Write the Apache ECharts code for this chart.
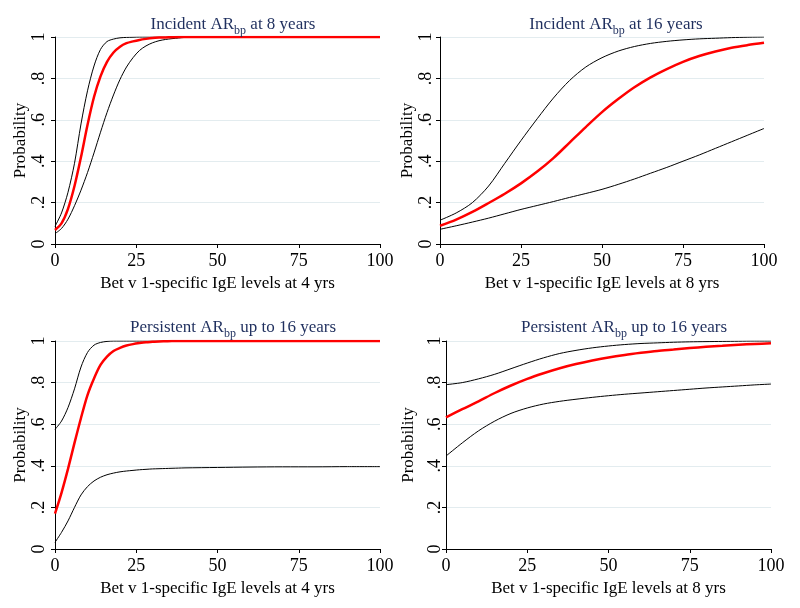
<!DOCTYPE html>
<html><head><meta charset="utf-8">
<script src="https://cdn.jsdelivr.net/npm/echarts@6/dist/echarts.min.js"></script>
<style>html,body{margin:0;padding:0;background:#fff}#c{width:800px;height:608px}</style>
</head><body><div id="c"></div>
<script>
// x grids (IgE levels)
const xSteep = [0,2,4,6,8,10,12,14,16,18,20,22,24,26,28,30,32,34,36,38,40,50,60,70,80,90,100];
const xWide = [0,5,10,15,20,25,30,35,40,45,50,55,60,65,70,75,80,85,90,95,100];

// Panel 1: Incident AR_bp at 8 years (IgE at 4 yrs)
const p1Red = [0.068,0.10,0.17,0.28,0.42,0.575,0.71,0.81,0.88,0.925,0.953,0.97,0.979,0.986,0.991,0.995,0.997,0.998,0.999,1,1,1,1,1,1,1,1];
const p1Up  = [0.085,0.15,0.25,0.39,0.58,0.74,0.86,0.94,0.978,0.99,0.996,0.998,0.999,1,1,1,1,1,1,1,1,1,1,1,1,1,1];
const p1Lo  = [0.05,0.075,0.12,0.185,0.26,0.345,0.44,0.54,0.635,0.72,0.795,0.855,0.90,0.935,0.957,0.972,0.982,0.988,0.992,0.995,0.998,1,1,1,1,1,1];
// Panel 2: Incident AR_bp at 16 years (IgE at 8 yrs)
const p2Red = [0.088,0.118,0.155,0.198,0.243,0.293,0.35,0.415,0.49,0.565,0.637,0.70,0.757,0.805,0.845,0.88,0.908,0.93,0.948,0.961,0.972];
const p2Up  = [0.115,0.15,0.2,0.28,0.39,0.50,0.605,0.705,0.79,0.855,0.90,0.932,0.954,0.969,0.979,0.986,0.991,0.994,0.997,0.999,1];
const p2Lo  = [0.071,0.088,0.106,0.125,0.146,0.167,0.186,0.205,0.225,0.244,0.264,0.288,0.314,0.342,0.37,0.40,0.43,0.462,0.494,0.526,0.558];
// Panel 3: Persistent AR_bp up to 16 years (IgE at 4 yrs)
const p3Red = [0.17,0.27,0.385,0.51,0.63,0.74,0.82,0.885,0.925,0.952,0.967,0.978,0.985,0.99,0.994,0.996,0.998,0.999,1,1,1,1,1,1,1,1,1];
const p3Up  = [0.575,0.615,0.68,0.77,0.875,0.945,0.98,0.993,0.998,1,1,1,1,1,1,1,1,1,1,1,1,1,1,1,1,1,1];
const p3Lo  = [0.032,0.08,0.135,0.2,0.26,0.30,0.327,0.345,0.357,0.365,0.371,0.375,0.378,0.381,0.383,0.385,0.386,0.387,0.388,0.389,0.39,0.392,0.394,0.395,0.395,0.396,0.396];
// Panel 4: Persistent AR_bp up to 16 years (IgE at 8 yrs)
const p4Red = [0.633,0.672,0.71,0.75,0.786,0.818,0.845,0.869,0.889,0.906,0.921,0.933,0.943,0.952,0.959,0.966,0.972,0.977,0.982,0.986,0.989];
const p4Up  = [0.79,0.80,0.818,0.84,0.867,0.894,0.919,0.94,0.955,0.967,0.976,0.983,0.988,0.991,0.994,0.996,0.997,0.998,0.999,1,1];
const p4Lo  = [0.447,0.51,0.568,0.615,0.652,0.678,0.697,0.71,0.72,0.729,0.737,0.744,0.75,0.756,0.762,0.768,0.774,0.779,0.784,0.789,0.793];

const titles = [
  ['Incident AR','bp',' at 8 years'],
  ['Incident AR','bp',' at 16 years'],
  ['Persistent AR','bp',' up to 16 years'],
  ['Persistent AR','bp',' up to 16 years']
];
const xNames = ['Bet v 1-specific IgE levels at 4 yrs','Bet v 1-specific IgE levels at 8 yrs',
                'Bet v 1-specific IgE levels at 4 yrs','Bet v 1-specific IgE levels at 8 yrs'];
const yName = 'Probability';
const xTicks = [0,25,50,75,100];
const yTickLabels = {0:'0',0.2:'.2',0.4:'.4',0.6:'.6',0.8:'.8',1:'1'};

const FONT = '"Liberation Serif","Times New Roman",serif';
const grids = [
  {left:55, top:37, width:325, height:207},
  {left:440, top:37, width:324, height:207},
  {left:55, top:341, width:325, height:208},
  {left:446, top:341, width:325, height:208}
];
const titlePos = [{x:228,y:8},{x:611,y:8},{x:228,y:311},{x:619,y:311}];
const yLabMargin = [7,5,7,2];
const yNameGap = [26,20,26,29];

const curves = [
  [[xSteep,p1Up],[xSteep,p1Lo],[xSteep,p1Red]],
  [[xWide,p2Up],[xWide,p2Lo],[xWide,p2Red]],
  [[xSteep,p3Up],[xSteep,p3Lo],[xSteep,p3Red]],
  [[xWide,p4Up],[xWide,p4Lo],[xWide,p4Red]]
];
const zip = (xs, ys) => xs.map((x,i)=>[x,ys[i]]);

const option = {
  backgroundColor:'#ffffff',
  animation:false,
  title: titles.map((t,i)=>({
    text:'{a|'+t[0]+'}{s|'+t[1]+'}{a|'+t[2]+'}',
    left: titlePos[i].x, top: titlePos[i].y, textAlign:'center',
    textStyle:{fontWeight:'normal',rich:{
      a:{fontFamily:FONT,fontSize:17,fontWeight:'normal',color:'#1f2f5e',verticalAlign:'bottom',lineHeight:20},
      s:{fontFamily:FONT,fontSize:12,fontWeight:'normal',color:'#1f2f5e',verticalAlign:'bottom',lineHeight:20,padding:[0,0,-4,0]}
    }}
  })),
  grid: grids,
  xAxis: grids.map((g,i)=>({
    type:'value', gridIndex:i, min:0, max:100, interval:25,
    name:xNames[i], nameLocation:'middle', nameGap:31,
    nameTextStyle:{fontFamily:FONT,fontSize:17,color:'#000'},
    axisLine:{lineStyle:{color:'#000',width:1}},
    axisTick:{show:true,length:4,lineStyle:{color:'#000'}},
    axisLabel:{fontFamily:FONT,fontSize:18,color:'#000',margin:8,
      formatter:v=>xTicks.includes(v)?String(v):''},
    splitLine:{show:false}
  })),
  yAxis: grids.map((g,i)=>({
    type:'value', gridIndex:i, min:0, max:1, interval:0.2,
    name:yName, nameLocation:'middle', nameGap:yNameGap[i],
    nameTextStyle:{fontFamily:FONT,fontSize:17,color:'#000'},
    axisLine:{show:true,lineStyle:{color:'#000',width:1}},
    axisTick:{show:true,length:4,lineStyle:{color:'#000'}},
    axisLabel:{fontFamily:FONT,fontSize:18,color:'#000',rotate:90,margin:yLabMargin[i],
      formatter:v=>{const k=Math.round(v*10)/10;return yTickLabels[k]!==undefined?yTickLabels[k]:'';}},
    splitLine:{show:true,lineStyle:{color:'#e3ecef',width:1}}
  })),
  series: []
};
curves.forEach((cs,i)=>{
  cs.forEach((c,j)=>{
    const red = j===2;
    option.series.push({
      type:'line', xAxisIndex:i, yAxisIndex:i, data:zip(c[0],c[1]),
      smooth:0.3, showSymbol:false, symbol:'none',
      lineStyle:{color:red?'#ff0000':'#000000', width:red?2.5:1},
      z: red?3:2
    });
  });
});
const chart = echarts.init(document.getElementById('c'),null,{renderer:'canvas'});
chart.setOption(option);
</script></body></html>
